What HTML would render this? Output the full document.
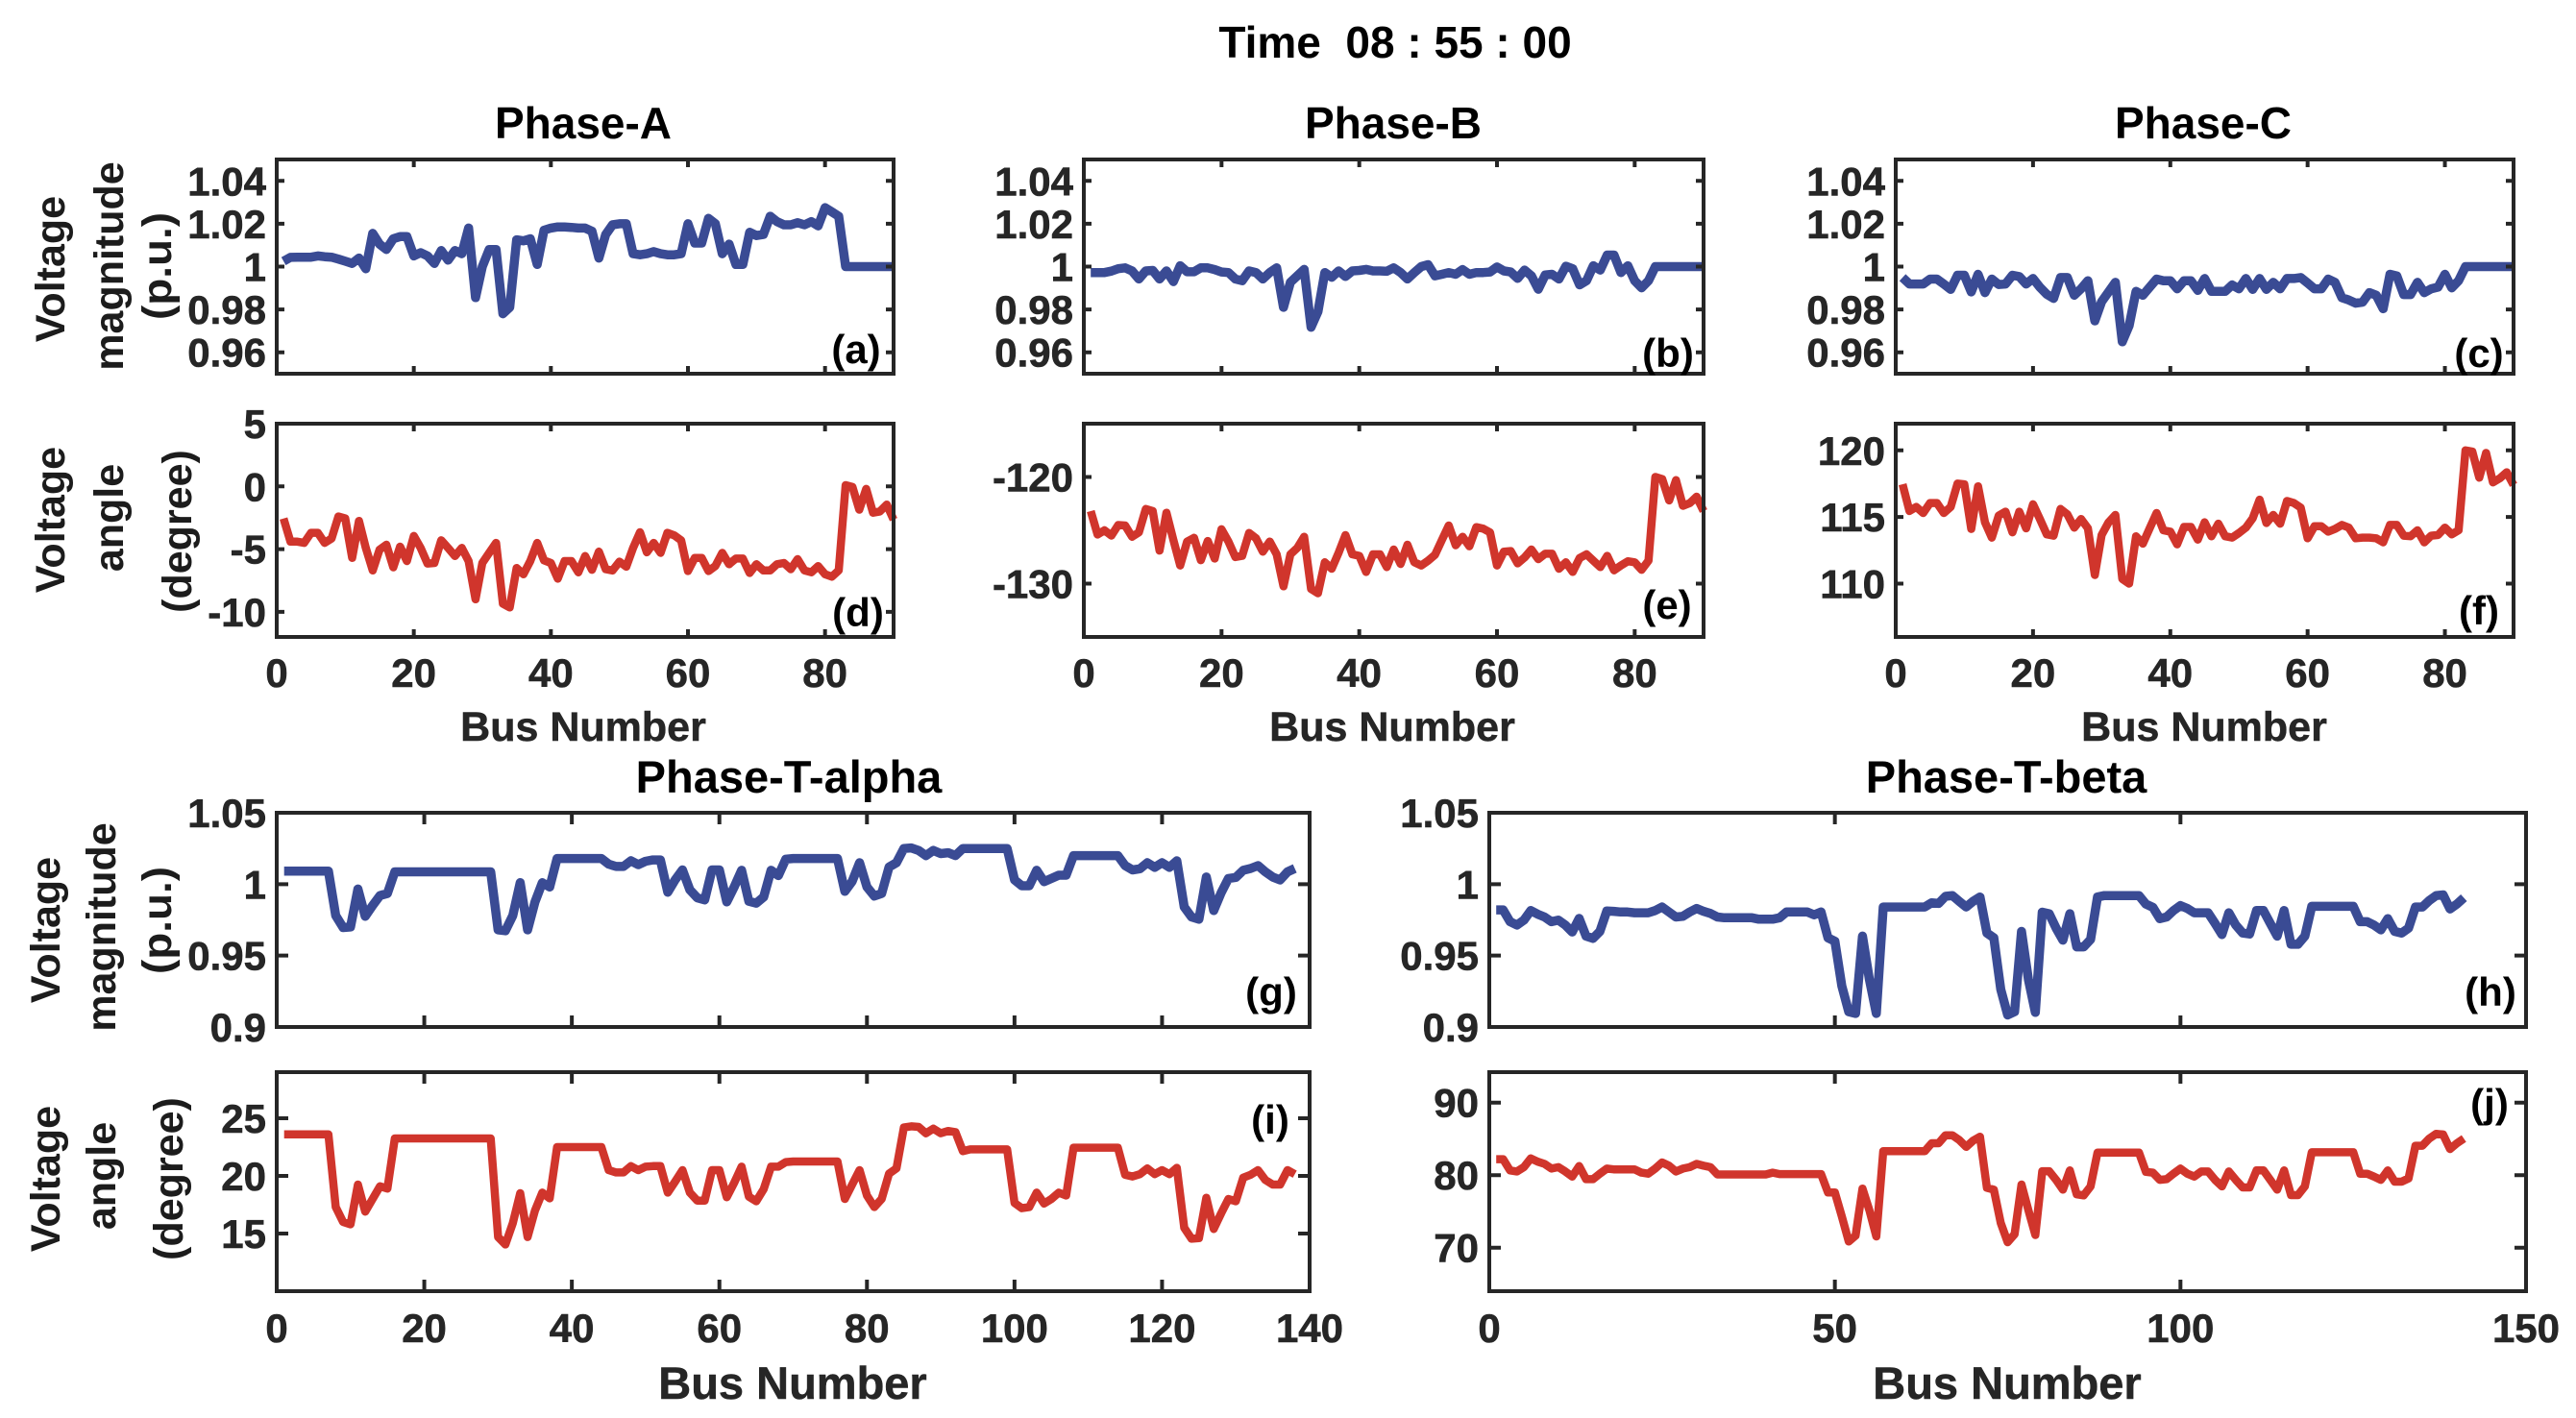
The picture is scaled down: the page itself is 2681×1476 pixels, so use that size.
<!DOCTYPE html>
<html lang="en">
<head>
<meta charset="utf-8">
<title>Time 08 : 55 : 00 voltage profiles</title>
<style>
html,body{margin:0;padding:0;background:#fff;}
svg{display:block;font-family:"Liberation Sans",Arial,sans-serif;font-weight:bold;}
.ylab{font-size:43px;fill:#1c1c1c;text-anchor:middle;}
.xlab{fill:#262626;text-anchor:middle;stroke:#262626;stroke-width:0.5px;}
.ttl{font-size:46px;fill:#000;text-anchor:middle;}
.tag{font-size:42px;fill:#000;text-anchor:middle;}
.tick{font-size:42px;fill:#262626;stroke:#262626;stroke-width:0.6px;}
</style>
</head>
<body>
<svg id="fig" xmlns="http://www.w3.org/2000/svg" width="2681" height="1476" viewBox="0 0 2681 1476">
<rect x="0" y="0" width="2681" height="1476" fill="#fff"/>
<text class="ttl" x="1452" y="60" xml:space="preserve">Time  08 : 55 : 00</text>
<text class="ttl" x="607" y="144">Phase-A</text>
<text class="ttl" x="1450" y="144">Phase-B</text>
<text class="ttl" x="2293" y="144">Phase-C</text>
<text class="ttl" style="font-size:47px" x="821" y="825">Phase-T-alpha</text>
<text class="ttl" style="font-size:47px" x="2088" y="825">Phase-T-beta</text>

<text class="ylab" transform="translate(67 280) rotate(-90)">Voltage</text>
<text class="ylab" transform="translate(128 277) rotate(-90)">magnitude</text>
<text class="ylab" transform="translate(178 277) rotate(-90)" textLength="112" lengthAdjust="spacingAndGlyphs">(p.u.)</text>
<text class="ylab" transform="translate(67 541) rotate(-90)">Voltage</text>
<text class="ylab" transform="translate(128 539) rotate(-90)">angle</text>
<text class="ylab" transform="translate(199 553) rotate(-90)">(degree)</text>
<text class="ylab" transform="translate(62 968) rotate(-90)">Voltage</text>
<text class="ylab" transform="translate(120 965) rotate(-90)">magnitude</text>
<text class="ylab" transform="translate(178 958) rotate(-90)" textLength="112" lengthAdjust="spacingAndGlyphs">(p.u.)</text>
<text class="ylab" transform="translate(62 1227) rotate(-90)">Voltage</text>
<text class="ylab" transform="translate(120 1224) rotate(-90)">angle</text>
<text class="ylab" transform="translate(190 1227) rotate(-90)">(degree)</text>

<text class="xlab" style="font-size:43px" x="607" y="771">Bus Number</text>
<text class="xlab" style="font-size:43px" x="1449" y="771">Bus Number</text>
<text class="xlab" style="font-size:43px" x="2294" y="771">Bus Number</text>
<text class="xlab" style="font-size:47px" x="825" y="1456">Bus Number</text>
<text class="xlab" style="font-size:47px" x="2089" y="1456">Bus Number</text>

<g id="plots"></g>

<text class="tag" x="891" y="378">(a)</text>
<text class="tag" x="1736" y="382">(b)</text>
<text class="tag" x="2580" y="382">(c)</text>
<text class="tag" x="893" y="652">(d)</text>
<text class="tag" x="1735" y="644">(e)</text>
<text class="tag" x="2580" y="650">(f)</text>
<text class="tag" x="1323" y="1047">(g)</text>
<text class="tag" x="2592" y="1047">(h)</text>
<text class="tag" x="1322" y="1180">(i)</text>
<text class="tag" x="2591" y="1163">(j)</text>
</svg>

<script>
// ---- tick values ----
const xTicksTop = [0, 20, 40, 60, 80];
const xTicksAlpha = [0, 20, 40, 60, 80, 100, 120, 140];
const xTicksBeta = [0, 50, 100, 150];
const yTicksMagTop = [0.96, 0.98, 1, 1.02, 1.04];
const yTicksMagBottom = [0.9, 0.95, 1, 1.05];
const yTicksAngleA = [-10, -5, 0, 5];
const yTicksAngleB = [-130, -120];
const yTicksAngleC = [110, 115, 120];
const yTicksAngleAlpha = [15, 20, 25];
const yTicksAngleBeta = [70, 80, 90];

// ---- series values, one entry per bus ----
const magA = [1.0025,1.0043,1.0044,1.0044,1.0044,1.005,1.0046,1.0044,1.0035,1.0025,
1.0015,1.004,0.999,1.0155,1.0105,1.008,1.013,1.014,1.014,1.005,
1.0065,1.005,1.0015,1.0075,1.003,1.0075,1.006,1.018,0.9855,1.0,
1.008,1.008,0.978,0.981,1.0125,1.012,1.013,1.001,1.017,1.018,
1.0185,1.0185,1.0183,1.018,1.018,1.0165,1.004,1.015,1.0195,1.02,
1.02,1.006,1.0055,1.006,1.007,1.006,1.0055,1.0055,1.006,1.02,
1.011,1.011,1.0225,1.02,1.006,1.0105,1.001,1.001,1.016,1.0145,
1.015,1.0235,1.021,1.0195,1.0195,1.0205,1.0195,1.021,1.019,1.0275,
1.0255,1.0235,1,1,1,1,1,1,1,1];
const magB = [0.9972,0.9972,0.9972,0.9979,0.999,0.9994,0.998,0.9942,0.998,0.9982,
0.9942,0.998,0.993,1.0004,0.9976,0.9976,0.9994,0.9994,0.9986,0.9975,
0.9972,0.9942,0.9934,0.998,0.9972,0.9942,0.9972,0.9994,0.981,0.9927,
0.9957,0.9987,0.9717,0.979,0.9972,0.995,0.998,0.9954,0.998,0.9982,
0.9987,0.998,0.998,0.9978,0.9994,0.9972,0.9942,0.9972,1,1.0009,
0.9957,0.9964,0.9972,0.9964,0.9986,0.9964,0.9972,0.9972,0.9975,0.9998,
0.998,0.9975,0.9945,0.9984,0.9957,0.9894,0.9961,0.9964,0.9942,1.0002,
0.999,0.9915,0.9934,1.0004,0.9984,1.0054,1.0054,0.9972,1.0004,0.9934,
0.9901,0.9934,1,1,1,1,1,1,1,1];
const magC = [0.9949,0.9919,0.9919,0.9919,0.99415,0.99415,0.9919,0.98935,0.99595,0.99595,
0.98815,0.9964,0.98785,0.99415,0.9916,0.9919,0.99595,0.99535,0.9919,0.99445,
0.9904,0.9871,0.98515,0.9949,0.9949,0.98665,0.98965,0.9934,0.97465,0.98365,
0.98815,0.99265,0.9649,0.9724,0.98845,0.98665,0.9904,0.99415,0.9934,0.9934,
0.98965,0.9934,0.9934,0.9889,0.99445,0.98845,0.98845,0.98845,0.99145,0.98965,
0.99445,0.98935,0.99445,0.98935,0.99265,0.98965,0.99445,0.99445,0.9949,0.99235,
0.98965,0.98965,0.99415,0.99265,0.98545,0.9844,0.9829,0.98335,0.98785,0.98665,
0.98035,0.9964,0.99565,0.98695,0.98695,0.99265,0.98785,0.98965,0.9904,0.9964,
0.9901,0.9934,1,1,1,1,1,1,1,1];
const angleA = [-2.56,-4.4,-4.4,-4.5,-3.7,-3.7,-4.5,-4.15,-2.4,-2.55,
-5.7,-2.75,-4.9,-6.7,-5.05,-4.65,-6.45,-4.8,-5.95,-3.95,
-4.9,-6.15,-6.1,-4.3,-4.9,-5.55,-4.9,-5.95,-9,-6.1,
-5.3,-4.5,-9.35,-9.65,-6.5,-7,-5.95,-4.5,-5.9,-6.1,
-7.35,-5.95,-5.95,-6.85,-5.55,-6.65,-5.2,-6.6,-6.7,-6,
-6.4,-4.9,-3.65,-5.25,-4.5,-5.3,-3.7,-3.9,-4.3,-6.75,
-5.7,-5.7,-6.75,-6.35,-5.3,-6.2,-5.75,-5.75,-6.9,-6.2,
-6.7,-6.7,-6.2,-6.1,-6.6,-5.8,-6.7,-6.85,-6.35,-7,
-7.2,-6.7,0.1,-0.05,-1.85,-0.2,-2.1,-2,-1.45,-2.65];
const angleB = [-123.2,-125.4,-125,-125.5,-124.5,-124.55,-125.6,-125.2,-123,-123.2,
-126.9,-123.35,-125.9,-128.3,-126.05,-125.7,-127.8,-126,-127.65,-124.9,
-126.05,-127.5,-127.4,-125.25,-125.75,-127,-126.05,-127.25,-130.25,-127.25,
-126.65,-125.6,-130.5,-130.9,-128,-128.6,-127.1,-125.45,-127.25,-127.4,
-128.9,-127.25,-127.25,-128.45,-126.8,-128.15,-126.35,-128,-128.3,-127.85,
-127.3,-125.9,-124.55,-126.4,-125.6,-126.5,-124.7,-124.85,-125.2,-128.3,
-127,-126.95,-128.1,-127.55,-126.8,-127.7,-127.2,-127.2,-128.6,-128,
-128.9,-127.6,-127.25,-127.85,-128.45,-127.4,-128.75,-128.3,-127.9,-128,
-128.7,-127.85,-120,-120.2,-122.2,-120.3,-122.7,-122.45,-121.85,-123.2];
const angleC = [117.45,115.45,115.75,115.3,116.05,116.05,115.3,115.75,117.5,117.45,
114.1,117.3,114.6,113.45,115.1,115.4,113.85,115.4,114.15,115.95,
114.85,113.7,113.6,115.6,115.2,114.2,114.85,114.15,110.65,113.65,
114.6,115.15,110.35,110,113.55,113,114.15,115.3,114,113.9,
112.95,114.25,114.25,113.3,114.6,113.55,114.5,113.55,113.45,113.8,
114.2,114.9,116.3,114.55,115.15,114.5,116.2,116.05,115.7,113.4,
114.3,114.3,113.9,114.1,114.4,114.2,113.4,113.45,113.45,113.4,
113.1,114.4,114.4,113.6,113.55,114,113.1,113.6,113.65,114.2,
113.7,114,120,119.9,117.95,119.8,117.6,117.9,118.35,117.4];
const magAlpha = [1.0092,1.0092,1.0092,1.0092,1.0092,1.0092,1.0092,0.978,0.9696,0.97,
0.9966,0.9775,0.985,0.992,0.9935,1.0086,1.0086,1.0086,1.0086,1.0086,
1.0086,1.0086,1.0086,1.0086,1.0086,1.0086,1.0086,1.0086,1.0086,0.968,
0.9674,0.978,1.001,0.968,0.9876,1.001,0.998,1.018,1.018,1.018,
1.018,1.018,1.018,1.018,1.014,1.0124,1.0124,1.0164,1.0137,1.016,
1.017,1.017,0.9944,1.003,1.01,0.996,0.9905,0.989,1.01,1.01,
0.9876,0.998,1.0097,0.988,0.9867,0.991,1.0097,1.006,1.0175,1.018,
1.018,1.018,1.018,1.018,1.018,1.018,0.995,1.002,1.015,0.998,
0.9917,0.9935,1.012,1.015,1.025,1.0254,1.0236,1.02,1.0236,1.0214,
1.022,1.02,1.025,1.025,1.025,1.025,1.025,1.025,1.025,1.003,
0.9989,0.9989,1.0097,1.0018,1.004,1.0063,1.0063,1.02,1.02,1.02,
1.02,1.02,1.02,1.02,1.013,1.01,1.0108,1.015,1.0118,1.015,
1.0118,1.0164,0.984,0.977,0.9755,1.005,0.9815,0.994,1.004,1.0047,
1.0097,1.011,1.013,1.0086,1.005,1.003,1.0086,1.011];
const angleAlpha = [23.6,23.6,23.6,23.6,23.6,23.6,23.6,17.3,16,15.8,
19.25,16.9,18,19.1,18.9,23.25,23.25,23.25,23.25,23.25,
23.25,23.25,23.25,23.25,23.25,23.25,23.25,23.25,23.25,14.7,
14.05,15.9,18.5,14.7,17,18.55,18.05,22.5,22.5,22.5,
22.5,22.5,22.5,22.5,20.5,20.3,20.3,20.85,20.5,20.8,
20.85,20.85,18.55,19.5,20.5,18.55,17.85,17.85,20.5,20.5,
18.15,19.4,20.8,18.2,17.8,18.85,20.8,20.8,21.2,21.25,
21.25,21.25,21.25,21.25,21.25,21.25,18,19.25,20.5,18.3,
17.3,18,20.2,20.65,24.2,24.3,24.25,23.7,24.1,23.7,
23.9,23.8,22.15,22.3,22.3,22.3,22.3,22.3,22.3,17.65,
17.2,17.3,18.55,17.6,18,18.55,18.3,22.45,22.45,22.45,
22.45,22.45,22.45,22.45,20.1,19.95,20.15,20.65,20.15,20.5,
20.15,20.7,15.5,14.55,14.6,18.1,15.4,16.75,18,17.8,
19.85,20.1,20.5,19.65,19.25,19.25,20.5,20.15];
const magBeta = [0.982,0.982,0.9737,0.9714,0.9748,0.9815,0.979,0.977,0.9737,0.9748,
0.9714,0.9665,0.976,0.9636,0.962,0.9669,0.9812,0.981,0.9805,0.9805,
0.98,0.98,0.98,0.9815,0.984,0.9805,0.977,0.9775,0.9805,0.983,
0.981,0.9795,0.977,0.9765,0.9765,0.9765,0.9765,0.9765,0.9755,0.9755,
0.9755,0.9765,0.9805,0.9805,0.9805,0.9805,0.9785,0.9805,0.9624,0.96,
0.9287,0.9107,0.9095,0.9636,0.9332,0.9095,0.984,0.984,0.984,0.984,
0.984,0.984,0.984,0.987,0.9865,0.9915,0.992,0.988,0.984,0.988,
0.991,0.9658,0.9624,0.9264,0.9084,0.9107,0.9669,0.9332,0.9102,0.9804,
0.9793,0.9692,0.9608,0.9793,0.9561,0.9561,0.9613,0.991,0.992,0.992,
0.992,0.992,0.992,0.992,0.986,0.9838,0.9759,0.977,0.9815,0.985,
0.983,0.98,0.98,0.98,0.9726,0.9647,0.98,0.9714,0.9658,0.9651,
0.9815,0.9815,0.9726,0.9636,0.9815,0.9579,0.9579,0.9636,0.9845,0.9845,
0.9845,0.9845,0.9845,0.9845,0.9845,0.9737,0.9737,0.9714,0.968,0.9759,
0.9669,0.9658,0.9692,0.984,0.984,0.9885,0.992,0.9925,0.9827,0.9861,0.9905];
const angleBeta = [82.2,82.2,80.65,80.5,81.1,82.3,81.85,81.55,80.9,81.1,
80.5,79.8,81.25,79.45,79.45,80.2,80.9,80.8,80.8,80.8,
80.8,80.35,80.2,80.9,81.75,81.3,80.5,80.9,81.1,81.55,
81.3,81.1,80.1,80.1,80.1,80.1,80.1,80.1,80.1,80.1,
80.35,80.15,80.15,80.15,80.15,80.15,80.15,80.15,77.6,77.6,
74.3,70.85,71.65,78.15,75.15,71.55,83.3,83.3,83.3,83.3,
83.3,83.3,83.3,84.4,84.4,85.5,85.5,84.85,83.9,84.75,
85.3,78.25,78,73.4,70.75,71.85,78.7,75.15,71.75,80.55,
80.55,79.35,78,80.65,77.35,77.2,78.45,83.1,83.1,83.1,
83.1,83.1,83.1,83.1,80.45,80.35,79.35,79.45,80.2,80.9,
80.2,79.8,80.5,80.5,79.35,78.45,80.5,79.35,78.3,78.3,
80.65,80.65,79.35,78,80.65,77.25,77.25,78.45,83.15,83.15,
83.15,83.15,83.15,83.15,83.15,80.2,80.2,79.8,79.35,80.65,
79.1,79.1,79.55,84.05,84.05,85.05,85.7,85.6,83.6,84.4,85.05];

const BLUE = '#3a4b94';
const RED = '#d0352c';
const INK = '#262626';
const NS = 'http://www.w3.org/2000/svg';
const plots = document.getElementById('plots');

function panel(id, box, xDomain, yDomain, xTicks, yTicks, values, color, showX, tickLen, labelDrop) {
  const xScale = function (v) { return box[0] + (v - xDomain[0]) / (xDomain[1] - xDomain[0]) * (box[2] - box[0]); };
  const yScale = function (v) { return box[3] - (v - yDomain[0]) / (yDomain[1] - yDomain[0]) * (box[3] - box[1]); };

  const g = document.createElementNS(NS, 'g');
  
  
  plots.appendChild(g);

  const d = values.map(function (v, i) {
    return (i ? 'L' : 'M') + xScale(i + 1).toFixed(1) + ' ' + yScale(v).toFixed(1);
  }).join('');
  const line = document.createElementNS(NS, 'path');
  
  
  line.setAttribute('d', d);
  line.setAttribute('fill', 'none');
  line.setAttribute('stroke', color);
  line.setAttribute('stroke-width', color === BLUE ? '9.5' : '8.5');
  line.setAttribute('stroke-linejoin', 'round');
  g.appendChild(line);

  const frame = document.createElementNS(NS, 'rect');
  
  
  frame.setAttribute('x', box[0]);
  frame.setAttribute('y', box[1]);
  frame.setAttribute('width', box[2] - box[0]);
  frame.setAttribute('height', box[3] - box[1]);
  frame.setAttribute('fill', 'none');
  frame.setAttribute('stroke', INK);
  frame.setAttribute('stroke-width', '4');
  g.appendChild(frame);

  xTicks.forEach(function (t) {
    const px = xScale(t);
    const mark = document.createElementNS(NS, 'path');
    
    
    mark.setAttribute('d', 'M' + px + ' ' + box[1] + 'v' + tickLen + 'M' + px + ' ' + box[3] + 'v' + (-tickLen));
    mark.setAttribute('stroke', INK);
    mark.setAttribute('stroke-width', '4');
    g.appendChild(mark);
    if (showX) {
      const lab = document.createElementNS(NS, 'text');
      
      
      lab.setAttribute('class', 'tick');
      lab.setAttribute('text-anchor', 'middle');
      lab.setAttribute('x', px);
      lab.setAttribute('y', box[3] + labelDrop);
      lab.textContent = String(t);
      g.appendChild(lab);
    }
  });

  yTicks.forEach(function (t) {
    const py = yScale(t);
    const mark = document.createElementNS(NS, 'path');
    
    
    mark.setAttribute('d', 'M' + box[0] + ' ' + py + 'h' + tickLen + 'M' + box[2] + ' ' + py + 'h' + (-tickLen));
    mark.setAttribute('stroke', INK);
    mark.setAttribute('stroke-width', '4');
    g.appendChild(mark);
    const lab = document.createElementNS(NS, 'text');
    
    
    lab.setAttribute('class', 'tick');
    lab.setAttribute('text-anchor', 'end');
    lab.setAttribute('x', box[0] - 11);
    lab.setAttribute('y', py + 15);
    lab.textContent = String(t);
    g.appendChild(lab);
  });
}

panel('a', [288, 166, 930, 389], [0, 90], [0.95, 1.05], xTicksTop, yTicksMagTop, magA, BLUE, false, 8, 0);
panel('b', [1128, 166, 1773, 389], [0, 90], [0.95, 1.05], xTicksTop, yTicksMagTop, magB, BLUE, false, 8, 0);
panel('c', [1973, 166, 2616, 389], [0, 90], [0.95, 1.05], xTicksTop, yTicksMagTop, magC, BLUE, false, 8, 0);
panel('d', [288, 441, 930, 663], [0, 90], [-12, 5], xTicksTop, yTicksAngleA, angleA, RED, true, 8, 52);
panel('e', [1128, 441, 1773, 663], [0, 90], [-135, -115], xTicksTop, yTicksAngleB, angleB, RED, true, 8, 52);
panel('f', [1973, 441, 2616, 663], [0, 90], [106, 122], xTicksTop, yTicksAngleC, angleC, RED, true, 8, 52);
panel('g', [288, 846, 1363, 1069], [0, 140], [0.9, 1.05], xTicksAlpha, yTicksMagBottom, magAlpha, BLUE, false, 12, 0);
panel('h', [1550, 846, 2629, 1069], [0, 150], [0.9, 1.05], xTicksBeta, yTicksMagBottom, magBeta, BLUE, false, 12, 0);
panel('i', [288, 1116, 1363, 1344], [0, 140], [10, 29], xTicksAlpha, yTicksAngleAlpha, angleAlpha, RED, true, 12, 53);
panel('j', [1550, 1116, 2629, 1344], [0, 150], [64, 94.2], xTicksBeta, yTicksAngleBeta, angleBeta, RED, true, 12, 53);
</script>
</body>
</html>
